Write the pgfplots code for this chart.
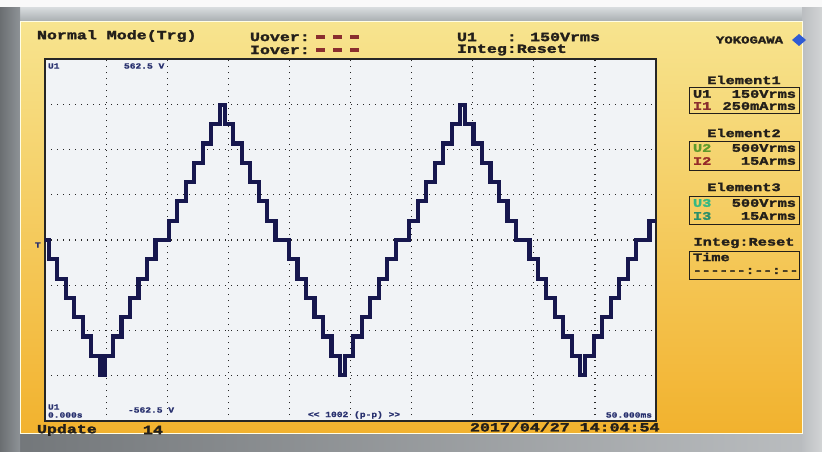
\documentclass[border=0pt]{standalone}
\usepackage{fontspec}
\usepackage{pgfplots}
\pgfplotsset{compat=1.18}
\newfontfamily\scr[FakeStretch=1.33, UprightFont={* Bold}, FakeBold=2.2]{Liberation Mono}
\newfontfamily\scrs[FakeStretch=1.2, UprightFont={* Bold}, FakeBold=1]{Liberation Mono}
\definecolor{bezel}{HTML}{8E9397}
\definecolor{bezeltop}{HTML}{C4CACD}
\definecolor{scrtop}{HTML}{F7E48F}
\definecolor{scrmid}{HTML}{F6CD58}
\definecolor{scrbot}{HTML}{F2B22E}
\definecolor{plotbg}{HTML}{F1F3F6}
\definecolor{wave}{HTML}{17174E}
\definecolor{dtext}{HTML}{231F1A}
\definecolor{maroon}{HTML}{8A2E2E}
\definecolor{ugreen}{HTML}{5E9A2C}
\definecolor{uteal}{HTML}{34B883}
\definecolor{iteal}{HTML}{2B8F6B}
\definecolor{navy}{HTML}{28306E}
\definecolor{diam}{HTML}{2F5BD3}
\newcommand{\TBig}[1]{{\fontsize{12.5}{13}\scr #1}}
\newcommand{\TMid}[1]{{\fontsize{11.5}{12}\scr #1}}
\newcommand{\TSml}[1]{{\fontsize{8}{9}\scrs #1}}
\begin{document}
\begin{tikzpicture}
\path[use as bounding box] (0pt,0pt) rectangle (822pt,451pt);
\fill[bezel] (0pt,0pt) rectangle (822pt,451pt);
\shade[left color=bezel!80!black, right color=bezel!60!white] (0pt,0pt) rectangle (822pt,20pt);
\fill[white!95!gray] (0pt,443pt) rectangle (822pt,451pt);
\shade[top color=bezeltop!70!white, bottom color=bezeltop!85!black] (0pt,429pt) rectangle (822pt,443pt);
\shade[left color=bezel!75!black, right color=bezel] (0pt,0pt) rectangle (20pt,443pt);
\shade[left color=bezel!60!white, right color=bezel!40!white] (802pt,0pt) rectangle (822pt,443pt);
\shade[top color=scrtop, middle color=scrmid, bottom color=scrbot] (20pt,18pt) rectangle (802pt,429pt);
\draw[white!90!yellow, line width=1pt] (20pt,18pt) rectangle (802pt,429pt);
\begin{axis}[
  at={(45pt,30pt)}, anchor=south west, scale only axis,
  width=611pt, height=362pt,
  xmin=0, xmax=50, ymin=-562.5, ymax=562.5,
  xtick={5,10,...,45},
  ytick={-421.875,-281.25,-140.625,0,140.625,281.25,421.875},
  xticklabels={}, yticklabels={},
  major tick length=0pt,
  grid=major,
  major grid style={black!85, line width=1.2pt, dash pattern=on 1.3pt off 4.7pt},
  axis background/.style={fill=plotbg},
  axis line style={line width=1.6pt, black!85},
]
\addplot[const plot, wave, line width=4.2pt, line join=miter] coordinates {
(0,0)
(0.300,-60)(0.995,-120)(1.690,-180)(2.385,-240)(3.080,-300)(3.775,-360)(4.470,-420)(4.865,-360)(5.560,-300)(6.255,-240)(6.950,-180)(7.645,-120)(8.340,-60)(9.035,0)
(10.135,60)(10.830,120)(11.525,180)(12.220,240)(12.915,300)(13.610,360)(14.305,420)(14.700,360)(15.395,300)(16.090,240)(16.785,180)(17.480,120)(18.175,60)(18.870,0)
(19.970,-60)(20.665,-120)(21.360,-180)(22.055,-240)(22.750,-300)(23.445,-360)(24.140,-420)(24.535,-360)(25.230,-300)(25.925,-240)(26.620,-180)(27.315,-120)(28.010,-60)(28.705,0)
(29.805,60)(30.500,120)(31.195,180)(31.890,240)(32.585,300)(33.280,360)(33.975,420)(34.370,360)(35.065,300)(35.760,240)(36.455,180)(37.150,120)(37.845,60)(38.540,0)
(39.640,-60)(40.335,-120)(41.030,-180)(41.725,-240)(42.420,-300)(43.115,-360)(43.810,-420)(44.205,-360)(44.900,-300)(45.595,-240)(46.290,-180)(46.985,-120)(47.680,-60)(48.375,0)
(49.475,60)(50,60)
};
\end{axis}
% status line
\tikzset{every node/.style={inner sep=0pt, outer sep=0pt}}
\node[anchor=west, dtext] at (37pt,415pt) {\TBig{Normal Mode(Trg)}};
\node[anchor=west, dtext] at (250pt,414pt) {\TBig{Uover:}};
\node[anchor=west, dtext] at (250pt,401pt) {\TBig{Iover:}};
\foreach \xx in {316,333,350}{
  \fill[maroon] (\xx pt,412pt) rectangle ++(9pt,4pt);
  \fill[maroon] (\xx pt,399pt) rectangle ++(9pt,4pt);
}
\node[anchor=west, dtext] at (457pt,414pt) {\TBig{U1\ \ \ : 150Vrms}};
\node[anchor=west, dtext] at (457pt,401pt) {\TBig{Integ:Reset}};
\node[anchor=west, dtext] at (716pt,411pt) {{\fontsize{10.5}{11}\scr YOKOGAWA}};
\fill[diam] (792pt,411pt) -- (799pt,417pt) -- (806pt,411pt) -- (799pt,405pt) -- cycle;
% right panel
\node[dtext] at (744pt,371pt) {\TMid{Element1}};
\draw[dtext, line width=1pt] (689pt,338pt) rectangle (799pt,364pt);
\node[anchor=west, dtext] at (693pt,357pt) {\TMid{U1}};
\node[anchor=east, dtext] at (796pt,357pt) {\TMid{150Vrms}};
\node[anchor=west, maroon] at (693pt,345pt) {\TMid{I1}};
\node[anchor=east, dtext] at (796pt,345pt) {\TMid{250mArms}};
\node[dtext] at (744pt,318pt) {\TMid{Element2}};
\draw[dtext, line width=1pt] (689pt,281pt) rectangle (799pt,310pt);
\node[anchor=west, ugreen] at (693pt,303pt) {\TMid{U2}};
\node[anchor=east, dtext] at (796pt,303pt) {\TMid{500Vrms}};
\node[anchor=west, maroon!90!red] at (693pt,290pt) {\TMid{I2}};
\node[anchor=east, dtext] at (796pt,290pt) {\TMid{15Arms}};
\node[dtext] at (744pt,264pt) {\TMid{Element3}};
\draw[dtext, line width=1pt] (689pt,227pt) rectangle (799pt,255pt);
\node[anchor=west, uteal] at (693pt,248pt) {\TMid{U3}};
\node[anchor=east, dtext] at (796pt,248pt) {\TMid{500Vrms}};
\node[anchor=west, iteal] at (693pt,235pt) {\TMid{I3}};
\node[anchor=east, dtext] at (796pt,235pt) {\TMid{15Arms}};
\node[dtext] at (744pt,208pt) {\TMid{Integ:Reset}};
\draw[dtext, line width=1pt] (689pt,172pt) rectangle (799pt,200pt);
\node[anchor=west, dtext] at (693pt,194pt) {\TMid{Time}};
\node[anchor=west, dtext] at (693pt,180pt) {{\fontsize{11}{12}\scr ------:--:--}};
% labels inside plot
\node[anchor=west, navy] at (48pt,385pt) {\TSml{U1}};
\node[anchor=west, navy] at (124pt,385pt) {\TSml{562.5 V}};
\node[anchor=west, navy] at (48pt,44pt) {\TSml{U1}};
\node[anchor=west, navy] at (48pt,36pt) {\TSml{0.000s}};
\node[anchor=west, navy] at (128pt,41pt) {\TSml{-562.5 V}};
\node[anchor=west, navy] at (308pt,36pt) {\TSml{<< 1002 (p-p) >>}};
\node[anchor=east, navy] at (652pt,36pt) {\TSml{50.000ms}};
\node[anchor=west, navy] at (35pt,206pt) {\TSml{T}};
% bottom line
\node[anchor=west, dtext] at (37pt,21pt) {\TBig{Update}};
\node[anchor=west, dtext] at (143pt,21pt) {\TBig{14}};
\node[anchor=west, dtext] at (470pt,24pt) {\TBig{2017/04/27 14:04:54}};
\end{tikzpicture}
\end{document}
